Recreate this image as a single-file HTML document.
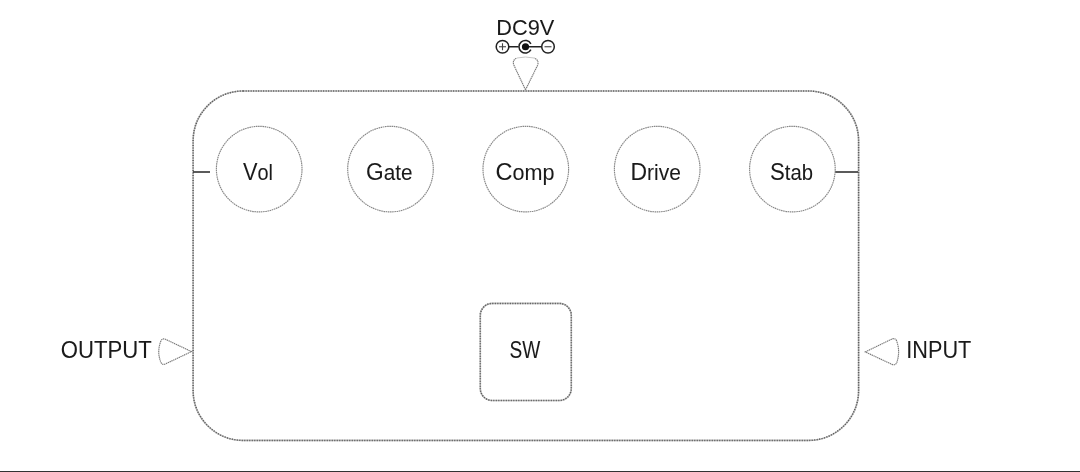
<!DOCTYPE html>
<html>
<head>
<meta charset="utf-8">
<style>
html,body{margin:0;padding:0;background:#fff;width:1080px;height:472px;overflow:hidden;}
svg{display:block;will-change:transform;}
text{font-family:"Liberation Sans", sans-serif;fill:#1a1a1a;stroke:#1a1a1a;stroke-width:0.05;}
</style>
</head>
<body>
<svg width="1080" height="472" viewBox="0 0 1080 472">
  <!-- bottom dark line -->
  <rect x="0" y="471" width="1080" height="1" fill="#333"/>

  <!-- main enclosure -->
  <rect x="193.1" y="91" width="665.5" height="349.4" rx="50" ry="50" fill="none" stroke="#bcbcbc" stroke-width="1.6"/>
  <rect x="193.1" y="91" width="665.5" height="349.4" rx="50" ry="50" fill="none" stroke="#5c5c5c" stroke-width="1.5" stroke-dasharray="1.1 1.4"/>

  <!-- knob stubs -->
  <line x1="193" y1="172" x2="210" y2="172" stroke="#333" stroke-width="1.6"/>
  <line x1="835" y1="172" x2="858" y2="172" stroke="#333" stroke-width="1.6"/>

  <!-- knobs -->
  <g fill="none" stroke="#888" stroke-width="1.15" stroke-dasharray="1.6 0.6">
    <circle cx="259.2" cy="169.1" r="42.8"/>
    <circle cx="390.5" cy="169.1" r="42.8"/>
    <circle cx="525.8" cy="169.1" r="42.8"/>
    <circle cx="657.2" cy="169.1" r="42.8"/>
    <circle cx="792.4" cy="169.1" r="42.8"/>
  </g>
  <g font-size="21.5">
    <text x="243" y="180.3" textLength="30" lengthAdjust="spacingAndGlyphs"><tspan font-size="23.5">V</tspan>ol</text>
    <text x="366" y="180.3" textLength="46.5" lengthAdjust="spacingAndGlyphs"><tspan font-size="23.5">G</tspan>ate</text>
    <text x="495.5" y="180.3" textLength="59" lengthAdjust="spacingAndGlyphs"><tspan font-size="23.5">C</tspan>omp</text>
    <text x="630.5" y="180.3" textLength="50.5" lengthAdjust="spacingAndGlyphs"><tspan font-size="23.5">D</tspan>rive</text>
    <text x="770" y="180.3" textLength="43" lengthAdjust="spacingAndGlyphs"><tspan font-size="23.5">S</tspan>tab</text>
  </g>

  <!-- SW -->
  <rect x="480.3" y="303.4" width="91" height="97.1" rx="12" ry="12" fill="none" stroke="#bcbcbc" stroke-width="1.6"/>
  <rect x="480.3" y="303.4" width="91" height="97.1" rx="12" ry="12" fill="none" stroke="#5c5c5c" stroke-width="1.5" stroke-dasharray="1.1 1.4"/>
  <text x="509.6" y="357.6" font-size="23.3" textLength="30.8" lengthAdjust="spacingAndGlyphs">SW</text>

  <!-- DC9V -->
  <text x="496.3" y="34.6" font-size="22.8" textLength="58" lengthAdjust="spacingAndGlyphs">DC9V</text>
  <g stroke="#222" stroke-width="1.5" fill="none">
    <circle cx="502.5" cy="46.75" r="6.3"/>
    <line x1="509" y1="46.75" x2="518.6" y2="46.75"/>
    <path d="M530.9 43.9 A6.3 6.3 0 1 0 530.9 49.6"/>
    <line x1="525" y1="46.75" x2="541.5" y2="46.75"/>
    <circle cx="548" cy="46.75" r="6.3"/>
  </g>
  <g stroke="#444" stroke-width="1.1">
    <line x1="499" y1="46.75" x2="506" y2="46.75"/>
    <line x1="502.5" y1="43.25" x2="502.5" y2="50.25"/>
    <line x1="544.5" y1="46.75" x2="551.5" y2="46.75"/>
  </g>
  <circle cx="525.5" cy="46.75" r="3.6" fill="#111"/>

  <!-- connectors -->
  <g fill="none" stroke="#7a7a7a" stroke-width="1.15" stroke-dasharray="1.4 0.6">
    <path d="M525.5 89.8 L513.8 65 Q512 60 517 58"/>
    <path d="M525.5 89.8 L537.5 65.5 Q539.5 60 534 58"/>
    <path d="M191.5 351.6 L165.5 339.3 Q162.2 337.9 160.9 341 Q156.6 351.6 160.9 362.3 Q162.2 365.3 165.5 363.9 Z"/>
    <path d="M865.3 351.9 L892 339 Q895.2 337.7 896.6 340.8 Q900.6 351.9 896.6 363 Q895.2 365.6 892 364.4 Z"/>
  </g>
  <path d="M517 58 Q525.5 56 534 58" fill="none" stroke="#c8c8c8" stroke-width="1"/>

  <text x="60.8" y="358.4" font-size="23.3" textLength="91" lengthAdjust="spacingAndGlyphs">OUTPUT</text>
  <text x="906.3" y="357.5" font-size="23.1" textLength="65" lengthAdjust="spacingAndGlyphs">INPUT</text>
</svg>
</body>
</html>
